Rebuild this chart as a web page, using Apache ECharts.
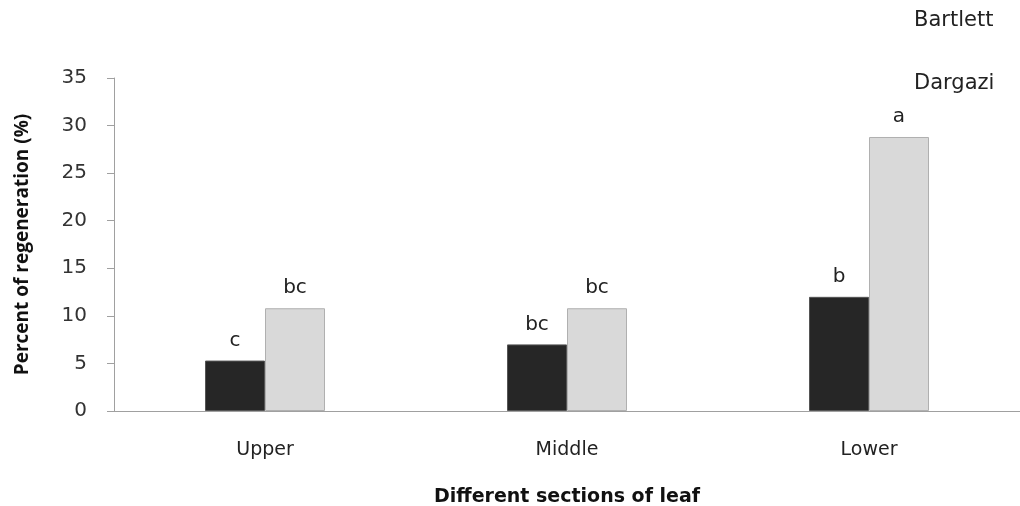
<!DOCTYPE html>
<html><head><meta charset="utf-8">
<script src="https://cdn.jsdelivr.net/npm/echarts@6/dist/echarts.min.js"></script>
<style>html,body{margin:0;padding:0;background:#fff}#c{width:1020px;height:506px}</style>
</head><body><div id="c"></div>
<script>
const categories = ['Upper', 'Middle', 'Lower'];
const bartlett = [5.3, 7.0, 12.0];
const dargazi = [10.8, 10.8, 28.8];
const bartlettLetters = ['c', 'bc', 'b'];
const dargaziLetters = ['bc', 'bc', 'a'];
const yTicks = [0, 5, 10, 15, 20, 25, 30, 35];

const chart = echarts.init(document.getElementById('c'));
const font = 'DejaVu Sans';
const lbl = (letters) => ({
  show: true, position: 'top', distance: 10,
  formatter: p => letters[p.dataIndex],
  fontFamily: font, fontSize: 20, color: '#222'
});
chart.setOption({
  animation: false,
  backgroundColor: '#fff',
  legend: {
    orient: 'vertical', left: 908, top: 9, itemGap: 39, padding: 0,
    itemWidth: 0, itemHeight: 14,
    icon: 'rect',
    textStyle: { fontFamily: font, fontSize: 21, lineHeight: 24, color: '#222' },
    data: [{ name: 'Bartlett', itemStyle: { opacity: 0 } }, { name: 'Dargazi', itemStyle: { opacity: 0 } }]
  },
  grid: { left: 114, top: 78, width: 906, height: 333, containLabel: false, outerBoundsMode: 'none' },
  xAxis: {
    type: 'category', data: categories,
    axisLine: { lineStyle: { color: '#a0a0a0', width: 1 } },
    axisTick: { show: false },
    axisLabel: { fontFamily: font, fontSize: 19, color: '#222', margin: 30 },
    name: 'Different sections of leaf', nameLocation: 'middle', nameGap: 77,
    nameTextStyle: { fontFamily: 'DejaVu Sans', fontWeight: 'bold', fontSize: 19, color: '#111' }
  },
  yAxis: {
    type: 'value', min: 0, max: 35, interval: 5,
    axisLine: { show: true, lineStyle: { color: '#a0a0a0' } },
    axisTick: { show: true, inside: false, length: 7, lineStyle: { color: '#a0a0a0' } },
    splitLine: { show: false },
    axisLabel: { fontFamily: font, fontSize: 20, color: '#333', margin: 27,
      formatter: v => yTicks.includes(v) ? String(v) : '' },
    name: 'Percent of regeneration (%)', nameLocation: 'middle', nameGap: 82, nameRotate: 90,
    nameTextStyle: { fontFamily: 'Open Sans', fontWeight: 'bold', fontSize: 19, color: '#111' }
  },
  series: [
    { name: 'Bartlett', type: 'bar', data: bartlett, barWidth: 60, barGap: '0%',
      itemStyle: { color: '#262626', borderColor: '#555', borderWidth: 1 },
      label: lbl(bartlettLetters) },
    { name: 'Dargazi', type: 'bar', data: dargazi, barWidth: 60, barGap: '0%',
      itemStyle: { color: '#d9d9d9', borderColor: '#b0b0b0', borderWidth: 1 },
      label: lbl(dargaziLetters) }
  ]
});
</script></body></html>
